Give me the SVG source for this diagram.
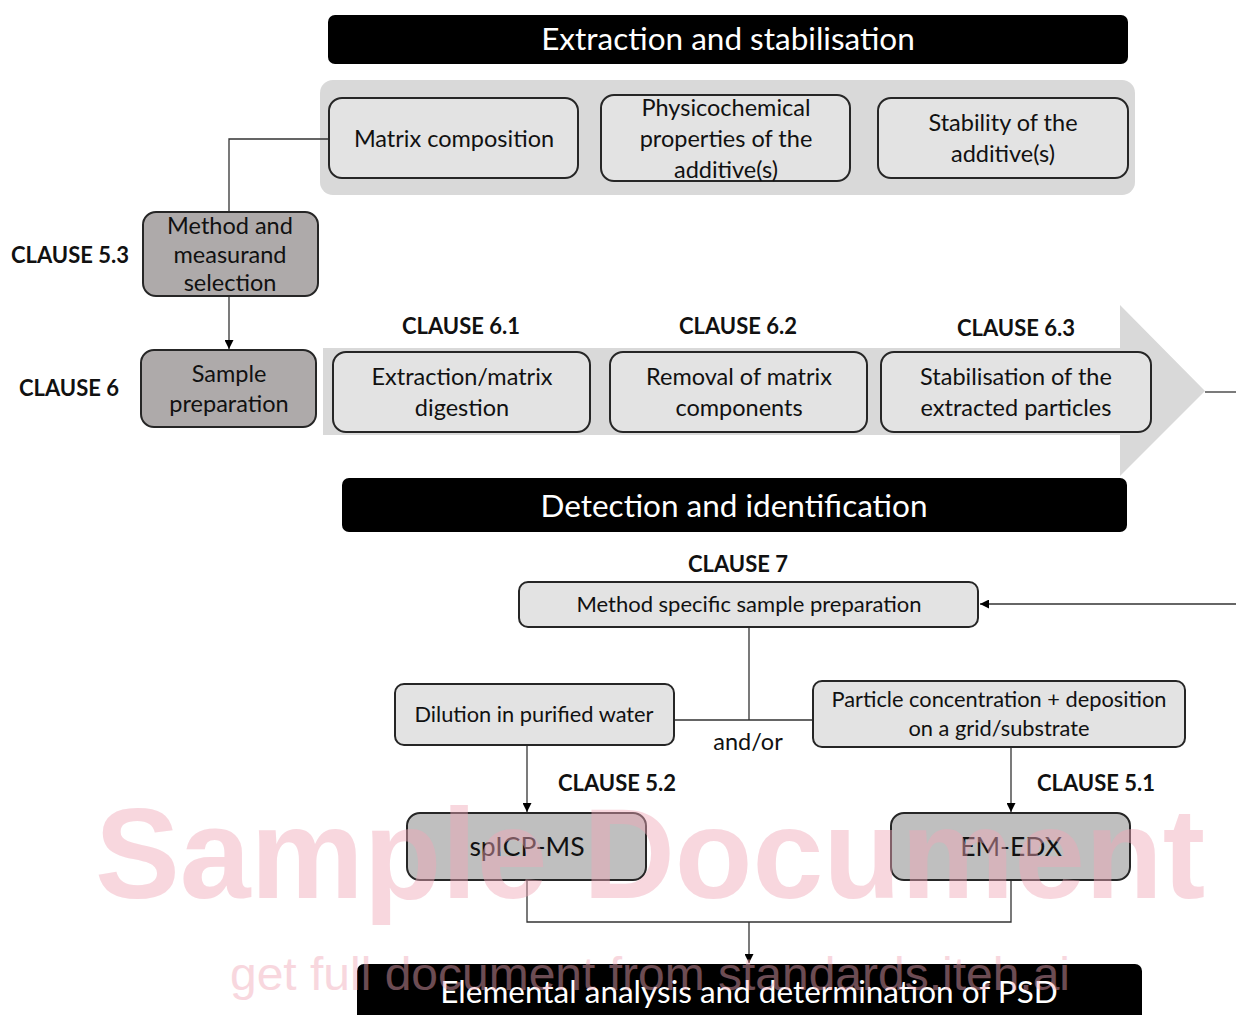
<svg xmlns="http://www.w3.org/2000/svg" width="1236" height="1015" viewBox="0 0 1236 1015">
<style>
text{font-family:Lato,"Liberation Sans",sans-serif;text-anchor:middle;fill:#111}
.t{font-size:23.5px}
.s{font-size:21.8px}
.c{font-size:22px;font-weight:bold}
.h{font-size:31.5px;fill:#fff}
.bar{fill:#000}
.box{fill:#e3e3e3;stroke:#262626;stroke-width:2}
.dk{fill:#aeaaaa;stroke:#262626;stroke-width:2}
.md{fill:#bfbfbf;stroke:#262626;stroke-width:2}
.ln{fill:none;stroke:#333;stroke-width:1.3}
.wm{font-family:"Liberation Sans",Arial,sans-serif;fill:#f0a8b8;opacity:0.45}
</style>
<defs>
<marker id="ah" viewBox="0 0 10 10" refX="10" refY="5" markerWidth="9" markerHeight="9" markerUnits="userSpaceOnUse" orient="auto"><path d="M0,0 L10,5 L0,10 z" fill="#000"/></marker>
</defs>
<rect width="1236" height="1015" fill="#fff"/>
<g id="panel-top"><rect x="320" y="80" width="815" height="115" rx="13" fill="#d9d9d9"/></g>
<g id="big-arrow"><path d="M323,348 L1120,348 L1120,305 L1205,391 L1120,476 L1120,435 L323,435 z" fill="#d9d9d9"/></g>
<g id="connectors">
<path class="ln" d="M329,139 H229 V212"/>
<path class="ln" d="M229,296 V349" marker-end="url(#ah)"/>
<path class="ln" d="M1205,392 H1236"/>
<path class="ln" d="M1236,604 H980" marker-end="url(#ah)"/>
<path class="ln" d="M749,627 V720 M674,720 H813"/>
<path class="ln" d="M527,745 V812" marker-end="url(#ah)"/>
<path class="ln" d="M1011,747 V812" marker-end="url(#ah)"/>
<path class="ln" d="M527,880 V922 H1011 V880"/>
<path class="ln" d="M749,922 V963" marker-end="url(#ah)"/>
</g>
<g id="title-extraction"><rect class="bar" x="328" y="15" width="800" height="49" rx="7"/><text class="h" x="728" y="50">Extraction and stabilisation</text></g>
<g id="matrix-composition"><rect class="box" x="329" y="98" width="249" height="80" rx="13"/><text class="t" x="454" y="147">Matrix composition</text></g>
<g id="physicochemical"><rect class="box" x="601" y="95" width="249" height="86" rx="13"/><text class="t" x="726" y="116">Physicochemical</text><text class="t" x="726" y="147">properties of the</text><text class="t" x="726" y="178">additive(s)</text></g>
<g id="stability"><rect class="box" x="878" y="98" width="250" height="80" rx="13"/><text class="t" x="1003" y="131">Stability of the</text><text class="t" x="1003" y="162">additive(s)</text></g>
<g id="method-selection"><rect class="dk" x="143" y="212" width="175" height="84" rx="13"/><text class="t" x="230" y="234">Method and</text><text class="t" x="230" y="263">measurand</text><text class="t" x="230" y="291">selection</text></g>
<text class="c" x="70" y="263">CLAUSE 5.3</text>
<g id="sample-preparation"><rect class="dk" x="141" y="350" width="175" height="77" rx="13"/><text class="t" x="229" y="382">Sample</text><text class="t" x="229" y="412">preparation</text></g>
<text class="c" x="69" y="396">CLAUSE 6</text>
<text class="c" x="461" y="334">CLAUSE 6.1</text>
<text class="c" x="738" y="334">CLAUSE 6.2</text>
<text class="c" x="1016" y="336">CLAUSE 6.3</text>
<g id="extraction-digestion"><rect class="box" x="333" y="352" width="257" height="80" rx="13"/><text class="t" x="462" y="385">Extraction/matrix</text><text class="t" x="462" y="416">digestion</text></g>
<g id="removal"><rect class="box" x="610" y="352" width="257" height="80" rx="13"/><text class="t" x="739" y="385">Removal of matrix</text><text class="t" x="739" y="416">components</text></g>
<g id="stabilisation"><rect class="box" x="881" y="352" width="270" height="80" rx="13"/><text class="t" x="1016" y="385">Stabilisation of the</text><text class="t" x="1016" y="416">extracted particles</text></g>
<g id="title-detection"><rect class="bar" x="342" y="478" width="785" height="54" rx="7"/><text class="h" x="734" y="517">Detection and identification</text></g>
<text class="c" x="738" y="572">CLAUSE 7</text>
<g id="method-specific"><rect class="box" x="519" y="582" width="459" height="45" rx="9"/><text class="s" x="749" y="612" style="font-size:22px">Method specific sample preparation</text></g>
<g id="dilution"><rect class="box" x="395" y="684" width="279" height="61" rx="9"/><text class="s" x="534" y="722">Dilution in purified water</text></g>
<g id="particle-concentration"><rect class="box" x="813" y="681" width="372" height="66" rx="9"/><text class="s" x="999" y="707">Particle concentration + deposition</text><text class="s" x="999" y="736">on a grid/substrate</text></g>
<text class="t" x="748" y="750" style="font-size:23.5px">and/or</text>
<text class="c" x="617" y="791">CLAUSE 5.2</text>
<text class="c" x="1096" y="791">CLAUSE 5.1</text>
<g id="spicp-ms"><rect class="md" x="407" y="813" width="239" height="67" rx="13"/><text class="t" x="527" y="856" style="font-size:26.5px">spICP-MS</text></g>
<g id="em-edx"><rect class="md" x="891" y="813" width="239" height="67" rx="13"/><text class="t" x="1011" y="856" style="font-size:26.5px">EM-EDX</text></g>
<g id="title-elemental"><rect class="bar" x="357" y="964" width="785" height="60" rx="7"/><text class="h" x="749" y="1003">Elemental analysis and determination of PSD</text></g>
<g id="watermark">
<text class="wm" x="650" y="898" style="font-size:128px;font-weight:bold" textLength="1110" lengthAdjust="spacingAndGlyphs">Sample Document</text>
<text class="wm" x="650" y="990" style="font-size:46px" textLength="840" lengthAdjust="spacingAndGlyphs">get full document from standards.iteh.ai</text>
</g>
</svg>
